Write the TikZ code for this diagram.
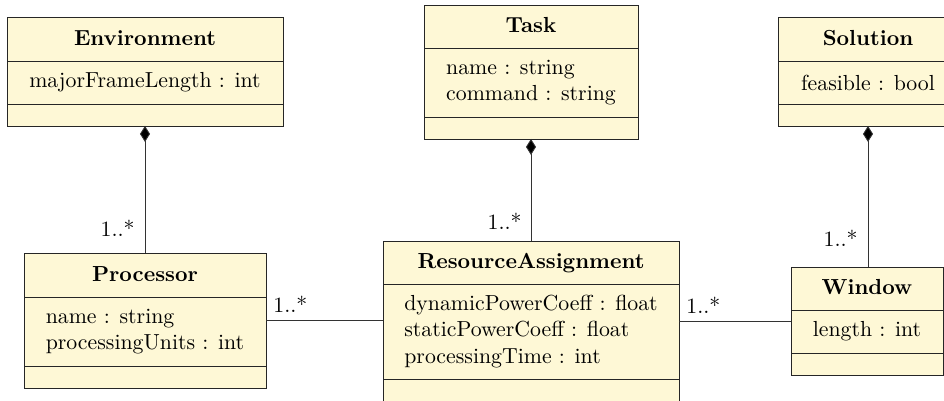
\documentclass[tikz,border=0pt]{standalone}
\usetikzlibrary{arrows.meta,fit}
\definecolor{umlfill}{HTML}{FEF8D6}
\begin{document}
\begin{tikzpicture}[x=0.459pt,y=-0.459pt,
 part/.style={draw=black!85, fill=umlfill, line width=0.42pt, inner sep=0pt, outer sep=0pt, anchor=north west},
 sz/.style 2 args={minimum width=#1*0.459pt, minimum height=#2*0.459pt},
 ttl/.style={part, font=\bfseries, text height=7.5pt, text depth=1.9pt},
 attr/.style={part, align=left},
 ops/.style={part},
 whole/.style={inner sep=0pt, outer sep=0pt},
 comp/.style={draw=black!80, line width=0.4pt, {Diamond[width=4.6pt,length=7.3pt,fill=black]}-},
 assoc/.style={draw=black!80, line width=0.4pt},
 multl/.style={inner sep=0pt, anchor=base east},
 multr/.style={inner sep=0pt, anchor=base west},
]
\useasboundingbox (0,0) rectangle (944,401);

% Environment
\node[ttl, sz={276}{44}] (env-t) at (7,17) {Environment};
\node[attr, sz={276}{43}] (env-a) at (env-t.south west) {majorFrameLength : int};
\node[ops, sz={276}{22}] (env-o) at (env-a.south west) {};

% Task
\node[ttl, sz={214}{43}] (task-t) at (424,5) {Task};
\node[attr, sz={214}{69}] (task-a) at (task-t.south west) {name : string\\command : string};
\node[ops, sz={214}{22}] (task-o) at (task-a.south west) {};

% Solution
\node[ttl, sz={180}{44}] (sol-t) at (778,17) {Solution};
\node[attr, sz={180}{43}] (sol-a) at (sol-t.south west) {feasible : bool};
\node[ops, sz={180}{22}] (sol-o) at (sol-a.south west) {};

% Processor
\node[ttl, sz={242}{44}] (proc-t) at (24,253) {Processor};
\node[attr, sz={242}{69}] (proc-a) at (proc-t.south west) {name : string\\processingUnits : int};
\node[ops, sz={242}{22}] (proc-o) at (proc-a.south west) {};
\node[whole, fit=(proc-t)(proc-o)] (proc) {};

% ResourceAssignment
\node[ttl, sz={296}{43}] (ra-t) at (383,241) {ResourceAssignment};
\node[attr, sz={296}{95}] (ra-a) at (ra-t.south west) {dynamicPowerCoeff : float\\staticPowerCoeff : float\\processingTime : int};
\node[ops, sz={296}{25}] (ra-o) at (ra-a.south west) {};
\node[whole, fit=(ra-t)(ra-o)] (ra) {};

% Window
\node[ttl, sz={152}{43}] (win-t) at (791,267) {Window};
\node[attr, sz={152}{43}] (win-a) at (win-t.south west) {length : int};
\node[ops, sz={152}{22}] (win-o) at (win-a.south west) {};
\node[whole, fit=(win-t)(win-o)] (win) {};

% Compositions
\draw[comp] (env-o.south) -- (proc-t.north);
\node[multl] (m-env) at ([xshift=-4.6pt,yshift=7.8pt]proc-t.north) {1..*};

\draw[comp] (task-o.south) -- (ra-t.north);
\node[multl] (m-task) at ([xshift=-4.1pt,yshift=5.5pt]ra-t.north) {1..*};

\draw[comp] (sol-o.south) -- (sol-o.south |- win-t.north);
\node[multl] (m-sol) at ([xshift=-4.6pt,yshift=9.2pt]sol-o.south |- win-t.north) {1..*};

% Associations
\draw[assoc] (proc.east) -- (proc.east -| ra.west);
\node[multr] (m-proc) at ([xshift=3.2pt,yshift=3.6pt]proc.east) {1..*};

\draw[assoc] (win.west -| ra.east) -- (win.west);
\node[multr] (m-ra) at ([xshift=3.2pt,yshift=3.6pt]win.west -| ra.east) {1..*};
\end{tikzpicture}
\end{document}
